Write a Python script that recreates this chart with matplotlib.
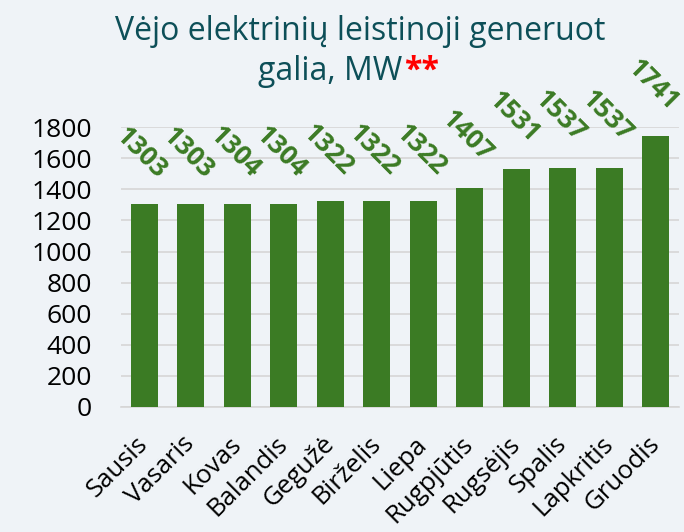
import numpy as np
import matplotlib.pyplot as plt

months = ["Sausis", "Vasaris", "Kovas", "Balandis", "Gegužė", "Birželis",
          "Liepa", "Rugpjūtis", "Rugsėjis", "Spalis", "Lapkritis", "Gruodis"]
power_mw = [1303, 1303, 1304, 1304, 1322, 1322, 1322, 1407, 1531, 1537, 1537, 1741]
yticks = [0, 200, 400, 600, 800, 1000, 1200, 1400, 1600, 1800]

bg = "#eff3f7"
green = "#3b7b24"
teal = "#0d4f58"

plt.rcParams['font.family'] = ['Open Sans', 'DejaVu Sans']

fig = plt.figure(figsize=(6.84, 5.32), dpi=100, facecolor=bg)
ax = fig.add_axes([0.177, 0.235, 0.816, 0.526], facecolor=bg)

x = np.arange(len(months))
bars = ax.bar(x, power_mw, width=0.58, color=green, zorder=3)

for xi, v in zip(x, power_mw):
    ax.annotate(str(v), (xi, v), xytext=(-2, 15), textcoords="offset points",
                ha="center", va="bottom", rotation=-45, fontsize=19,
                fontweight="bold", color=green, annotation_clip=False)

ax.set_ylim(0, 1800)
ax.set_xlim(-0.5, len(months) - 0.5)
ax.set_yticks(yticks)
ax.set_yticklabels([str(t) for t in yticks], fontsize=19)
ax.tick_params(axis="y", length=0, pad=21)
ax.set_xticks(x)
ax.set_xticklabels(months, rotation=45, ha="right", va="center",
                   rotation_mode="anchor", fontsize=18.5)
ax.tick_params(axis="x", length=0, pad=24)
ax.grid(axis="y", color="#d6d6d6", linewidth=1.2, zorder=0)
for s in ["top", "right", "left"]:
    ax.spines[s].set_visible(False)
ax.spines["bottom"].set_color("#d6d6d6")
ax.spines["bottom"].set_linewidth(1.2)

fig.text(0.526, 0.925, "Vėjo elektrinių leistinoji generuot", ha="center",
         va="baseline", fontsize=23, color=teal)
t2 = fig.text(0.483, 0.85, "galia, MW", ha="center", va="baseline",
              fontsize=23, color=teal)
ax.annotate("**", xy=(1, 0), xycoords=t2, xytext=(1, 0), textcoords="offset points",
            ha="left", va="bottom", fontsize=23, fontweight="bold", color="#ff0000")

fig.savefig("out.png", dpi=100, facecolor=bg)
